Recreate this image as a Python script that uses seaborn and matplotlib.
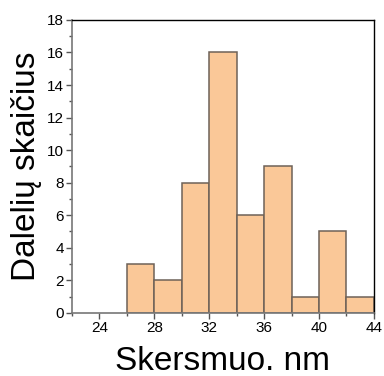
import matplotlib
matplotlib.use("Agg")
import matplotlib.pyplot as plt
import seaborn as sns
import numpy as np
from matplotlib.ticker import MultipleLocator

bin_edges = [26, 28, 30, 32, 34, 36, 38, 40, 42, 44]
counts = [3, 2, 8, 16, 6, 9, 1, 5, 1]
x_ticks = [24, 28, 32, 36, 40, 44]
y_ticks = [0, 2, 4, 6, 8, 10, 12, 14, 16, 18]

sns.set_style("white")
plt.rcParams['font.family'] = ['Liberation Sans', 'DejaVu Sans']
plt.rcParams['text.color'] = 'black'
plt.rcParams['axes.labelcolor'] = 'black'

centers = [(a + b) / 2 for a, b in zip(bin_edges[:-1], bin_edges[1:])]

fig = plt.figure(figsize=(3.84, 3.76), dpi=100)
ax = fig.add_axes([0.1875, 0.168, 0.786, 0.779])
sns.histplot(x=centers, weights=counts, bins=bin_edges, ax=ax,
             color="#FAC898", alpha=1, edgecolor="#6e6258", linewidth=1.1)
ax.set_xlim(22, 44)
ax.set_ylim(0, 18)
ax.set_xticks(x_ticks)
ax.set_yticks(y_ticks)
ax.yaxis.set_minor_locator(MultipleLocator(1))
ax.xaxis.set_minor_locator(MultipleLocator(2))
ax.tick_params(axis='both', which='major', direction='out', length=4, width=1,
               colors='#555555', labelcolor='black', labelsize=11, pad=2)
ax.tick_params(axis='both', which='minor', direction='out', length=2, width=1, colors='#555555')
ax.tick_params(left=True, bottom=True, which='both')
for s in ['left', 'bottom']:
    ax.spines[s].set_color('#777777')
    ax.spines[s].set_linewidth(1.2)
for s in ['top', 'right']:
    ax.spines[s].set_color('black')
    ax.spines[s].set_linewidth(1)
ax.set_xlabel("Skersmuo. nm", fontsize=24, labelpad=8, color='black')
ax.set_ylabel("Dalelių skaičius", fontsize=24, labelpad=3, color='black')
fig.savefig("out.png", dpi=100)
